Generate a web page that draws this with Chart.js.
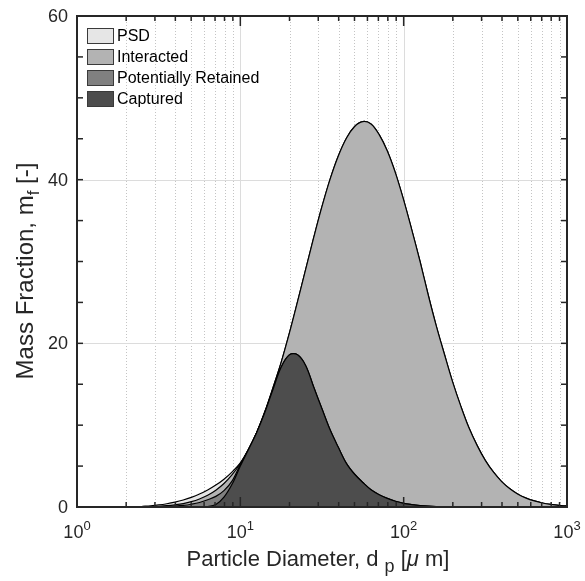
<!DOCTYPE html>
<html>
<head>
<meta charset="utf-8">
<script src="https://cdn.jsdelivr.net/npm/chart.js@4.4.0/dist/chart.umd.min.js"></script>
<style>
  html, body { margin: 0; padding: 0; background: #fff; }
  #wrap { width: 585px; height: 581px; }
</style>
</head>
<body>
<div id="wrap"><canvas id="chart" width="585" height="581"></canvas></div>
<script>
// ── Data ───────────────────────────────────────────────────────────────────
// Particle diameters in µm, roughly 20 points per decade.
const DIAMETERS = [
  2.51, 2.82, 3.16, 3.55, 3.98, 4.47, 5.01, 5.62, 6.31, 7.08, 7.94, 8.91,
  10.0, 11.2, 12.6, 14.1, 15.8, 17.8, 20.0, 22.4, 25.1, 28.2, 31.6, 35.5,
  39.8, 44.7, 50.1, 56.2, 63.1, 70.8, 79.4, 89.1, 100, 112, 126, 141,
  158, 178, 200, 224, 251, 282, 316, 355, 398, 447, 501, 562,
  631, 708, 794, 891, 1000
];

const PSD = [
  0.08, 0.15, 0.25, 0.40, 0.60, 0.86, 1.18, 1.58, 2.08, 2.68, 3.40, 4.30,
  5.40, 7.03, 9.12, 11.6, 14.5, 17.7, 21.3, 25.1, 29.0, 33.0, 36.7, 40.1,
  42.9, 45.1, 46.5, 47.1, 46.8, 45.5, 43.5, 40.8, 37.5, 33.9, 30.0, 26.0,
  22.2, 18.6, 15.2, 12.3, 9.68, 7.50, 5.70, 4.25, 3.11, 2.23, 1.57, 1.09,
  0.74, 0.49, 0.32, 0.20, 0.13
];

const INTERACTED = [
  0.03, 0.05, 0.09, 0.16, 0.27, 0.42, 0.65, 0.98, 1.43, 2.05, 2.87, 3.95,
  5.32, 7.03, 9.12, 11.6, 14.5, 17.7, 21.3, 25.1, 29.0, 33.0, 36.7, 40.1,
  42.9, 45.1, 46.5, 47.1, 46.8, 45.5, 43.5, 40.8, 37.5, 33.9, 30.0, 26.0,
  22.2, 18.6, 15.2, 12.3, 9.68, 7.50, 5.70, 4.25, 3.11, 2.23, 1.57, 1.09,
  0.74, 0.49, 0.32, 0.20, 0.13
];

const RETAINED = [
  0.00, 0.01, 0.02, 0.05, 0.10, 0.19, 0.34, 0.55, 0.88, 1.30, 2.00, 3.20,
  5.20, 7.00, 9.10, 11.5, 14.3, 17.1, 18.6, 18.6, 17.3, 14.6, 12.0, 9.40,
  7.30, 5.30, 4.00, 3.00, 2.10, 1.50, 1.05, 0.70, 0.45, 0.30, 0.18, 0.10,
  0.05, 0.03, 0.01, 0, 0, 0, 0, 0, 0, 0, 0, 0,
  0, 0, 0, 0, 0
];

const CAPTURED = [
  0, 0, 0, 0, 0, 0, 0, 0, 0.05, 0.30, 1.20, 2.80,
  5.00, 7.00, 9.10, 11.5, 14.3, 17.1, 18.6, 18.6, 17.3, 14.6, 12.0, 9.40,
  7.30, 5.30, 4.00, 3.00, 2.10, 1.50, 1.05, 0.70, 0.45, 0.30, 0.18, 0.10,
  0.05, 0.03, 0.01, 0, 0, 0, 0, 0, 0, 0, 0, 0,
  0, 0, 0, 0, 0
];

const SERIES_LABELS = ["PSD", "Interacted", "Potentially Retained", "Captured"];
const SERIES_VALUES = [PSD, INTERACTED, RETAINED, CAPTURED];

// Axis ticks
const X_DECADES   = [1, 10, 100, 1000];
const X_EXPONENTS = ["0", "1", "2", "3"];
const Y_LABELS    = [0, 20, 40, 60];
const Y_MINOR_STEP = 5;

// ── Styling ────────────────────────────────────────────────────────────────
const FILLS = ["#e6e6e6", "#b3b3b3", "#808080", "#4d4d4d"];
const INK   = "#262626";
const FAMILY = '"Liberation Sans", Arial, Helvetica, sans-serif';

function font(px, italic) {
    return (italic ? "italic " : "") + px + "px " + FAMILY;
}

// A "run" is a list of [text, size, dy, italic] pieces drawn one after the other.
function runWidth(ctx, parts) {
    let w = 0;
    parts.forEach(([t, s, , it]) => { ctx.font = font(s, it); w += ctx.measureText(t).width; });
    return w;
}

function drawRun(ctx, parts, x, y) {
    let cx = x;
    parts.forEach(([t, s, dy, it]) => {
        ctx.font = font(s, it);
        ctx.fillText(t, cx, y + (dy || 0));
        cx += ctx.measureText(t).width;
    });
}

function line(ctx, x1, y1, x2, y2) {
    ctx.beginPath();
    ctx.moveTo(x1, y1);
    ctx.lineTo(x2, y2);
    ctx.stroke();
}

// MATLAB-like axes: grid behind the areas, box / inward ticks / labels on top.
const matlabAxes = {
    id: "matlabAxes",

    beforeDatasetsDraw(chart) {
        const { ctx, chartArea: a, scales: { x, y } } = chart;
        ctx.save();
        ctx.lineWidth = 1;

        // minor x grid (dotted)
        ctx.strokeStyle = "#c4c4c4";
        ctx.setLineDash([1, 2]);
        for (let d = 0; d < X_DECADES.length - 1; d++) {
            for (let m = 2; m <= 9; m++) {
                const px = Math.round(x.getPixelForValue(m * X_DECADES[d])) + 0.5;
                line(ctx, px, a.top, px, a.bottom);
            }
        }

        // major grid (solid, light)
        ctx.setLineDash([]);
        ctx.strokeStyle = "#dcdcdc";
        X_DECADES.slice(1, -1).forEach(v => {
            const px = Math.round(x.getPixelForValue(v)) + 0.5;
            line(ctx, px, a.top, px, a.bottom);
        });
        Y_LABELS.slice(1, -1).forEach(v => {
            const py = Math.round(y.getPixelForValue(v)) + 0.5;
            line(ctx, a.left, py, a.right, py);
        });
        ctx.restore();
    },

    afterDatasetsDraw(chart) {
        const { ctx, chartArea: a, scales: { x, y } } = chart;
        ctx.save();
        ctx.strokeStyle = INK;
        ctx.fillStyle = INK;

        // inward ticks, x (top and bottom)
        ctx.lineWidth = 1.5;
        for (let d = 0; d < X_DECADES.length; d++) {
            const major = x.getPixelForValue(X_DECADES[d]);
            line(ctx, major, a.bottom, major, a.bottom - 10);
            line(ctx, major, a.top, major, a.top + 10);
            if (d === X_DECADES.length - 1) break;
            for (let m = 2; m <= 9; m++) {
                const px = x.getPixelForValue(m * X_DECADES[d]);
                line(ctx, px, a.bottom, px, a.bottom - 5);
                line(ctx, px, a.top, px, a.top + 5);
            }
        }
        // inward ticks, y (left and right)
        for (let v = 0; v <= 60; v += Y_MINOR_STEP) {
            const py = y.getPixelForValue(v);
            line(ctx, a.left, py, a.left + 6, py);
            line(ctx, a.right, py, a.right - 6, py);
        }

        // box
        ctx.lineWidth = 2;
        ctx.strokeRect(a.left, a.top, a.right - a.left, a.bottom - a.top);

        // x tick labels 10^n
        ctx.textBaseline = "alphabetic";
        ctx.textAlign = "left";
        X_DECADES.forEach((v, i) => {
            const parts = [["10", 18, 0], [X_EXPONENTS[i], 13, -8]];
            const w = runWidth(ctx, parts);
            drawRun(ctx, parts, x.getPixelForValue(v) - w / 2, a.bottom + 31);
        });

        // y tick labels
        ctx.font = font(18);
        ctx.textAlign = "right";
        ctx.textBaseline = "middle";
        Y_LABELS.forEach(v => ctx.fillText(String(v), a.left - 9, y.getPixelForValue(v) + 1));

        // axis titles
        ctx.textAlign = "left";
        ctx.textBaseline = "alphabetic";
        const xTitle = [
            ["Particle Diameter, d ", 22, 0], ["p", 18, 6], [" [", 22, 0],
            ["\u03BC", 22, 0, true], [" m]", 22, 0]
        ];
        const xw = runWidth(ctx, xTitle);
        drawRun(ctx, xTitle, 318 - xw / 2, a.bottom + 59);

        const yTitle = [["Mass Fraction, m", 24, 0], ["f", 17, 6], [" [-]", 24, 0]];
        const yw = runWidth(ctx, yTitle);
        ctx.save();
        ctx.translate(33, 271);
        ctx.rotate(-Math.PI / 2);
        drawRun(ctx, yTitle, -yw / 2, 0);
        ctx.restore();

        // legend (inside, top-left, no box)
        ctx.textBaseline = "middle";
        ctx.font = font(16);
        chart.data.datasets.forEach((ds, i) => {
            const cy = a.top + 20 + i * 21;
            ctx.fillStyle = ds.backgroundColor;
            ctx.fillRect(a.left + 10, cy - 8, 27, 16);
            ctx.lineWidth = 1;
            ctx.strokeStyle = "#3a3a3a";
            ctx.strokeRect(a.left + 10.5, cy - 7.5, 26, 15);
            ctx.fillStyle = "#000";
            ctx.fillText(ds.label, a.left + 40, cy + 1);
        });

        ctx.restore();
    }
};

new Chart(document.getElementById("chart"), {
    type: "line",
    data: {
        datasets: SERIES_VALUES.map((vals, i) => ({
            label: SERIES_LABELS[i],
            data: DIAMETERS.map((d, j) => ({ x: d, y: vals[j] })),
            backgroundColor: FILLS[i],
            borderColor: "#000",
            borderWidth: 1.2,
            fill: "origin",
            order: SERIES_VALUES.length - i,  // PSD at the back, Captured in front
        })),
    },
    options: {
        responsive: false,
        animation: false,
        layout: { padding: { left: 77, right: 18, top: 16, bottom: 74 } },
        elements: { point: { radius: 0 }, line: { tension: 0.35 } },
        scales: {
            x: { type: "logarithmic", min: 1, max: 1000, display: false },
            y: { min: 0, max: 60, display: false },
        },
        plugins: {
            legend: { display: false },
            tooltip: { enabled: false },
        },
    },
    plugins: [matlabAxes],
});
</script>
</body>
</html>
